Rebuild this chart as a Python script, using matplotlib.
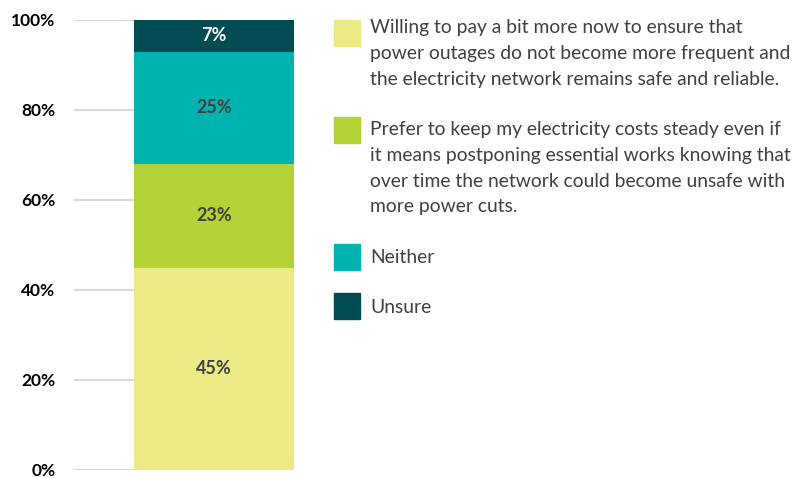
import matplotlib
matplotlib.use('Agg')
import matplotlib.pyplot as plt
from matplotlib.patches import Rectangle

# Survey answers, stacked bottom to top (legend text pre-wrapped)
answers = [['Willing to pay a bit more now to ensure that',
            'power outages do not become more frequent and',
            'the electricity network remains safe and reliable.'],
           ['Prefer to keep my electricity costs steady even if',
            'it means postponing essential works knowing that',
            'over time the network could become unsafe with',
            'more power cuts.'],
           ['Neither'],
           ['Unsure']]
shares = [45, 23, 25, 7]
colours = ['#EAEA86', '#B2D235', '#00B3AE', '#004C52']
label_colours = ['#404040', '#404040', '#404040', 'white']
yticks = [0, 20, 40, 60, 80, 100]

plt.rcParams['font.family'] = ['Lato', 'DejaVu Sans']

fig = plt.figure(figsize=(7.97, 4.78), dpi=100)
W, H = 797, 478
ax = fig.add_axes([74 / W, 1 - 470 / H, 220 / W, 450 / H])

bottom = 0
for share, col, lcol in zip(shares, colours, label_colours):
    ax.bar(0, share, bottom=bottom, width=1, color=col, zorder=2)
    ax.text(0, bottom + share / 2, f'{share}%', ha='center', va='center',
            fontsize=13, fontweight='bold', color=lcol, zorder=3)
    bottom += share

ax.set_xlim(-0.875, 0.5)
ax.set_ylim(0, 100)
ax.set_yticks(yticks)
ax.set_yticklabels([f'{t}%' for t in yticks], fontsize=12.5, fontweight='bold', color='black')
ax.set_xticks([])
ax.yaxis.grid(True, color='#D9D9D9', linewidth=1.5, zorder=0)
ax.tick_params(axis='y', length=0, pad=13.5)
for s in ax.spines.values():
    s.set_visible(False)

# Legend drawn by hand so the wrapped text sits beside each swatch
swatch_tops = [20, 117, 244, 293]
first_baselines = [33, 135, 263, 313]
step = 25.8
for lines, col, top, base in zip(answers, colours, swatch_tops, first_baselines):
    fig.patches.append(Rectangle((334 / W, 1 - (top + 26) / H), 26 / W, 26 / H,
                                 transform=fig.transFigure, color=col))
    for i, line in enumerate(lines):
        fig.text(370 / W, 1 - (base + i * step) / H, line, ha='left', va='baseline',
                 fontsize=13.9, color='#404040')

fig.savefig('out.png', dpi=100)
